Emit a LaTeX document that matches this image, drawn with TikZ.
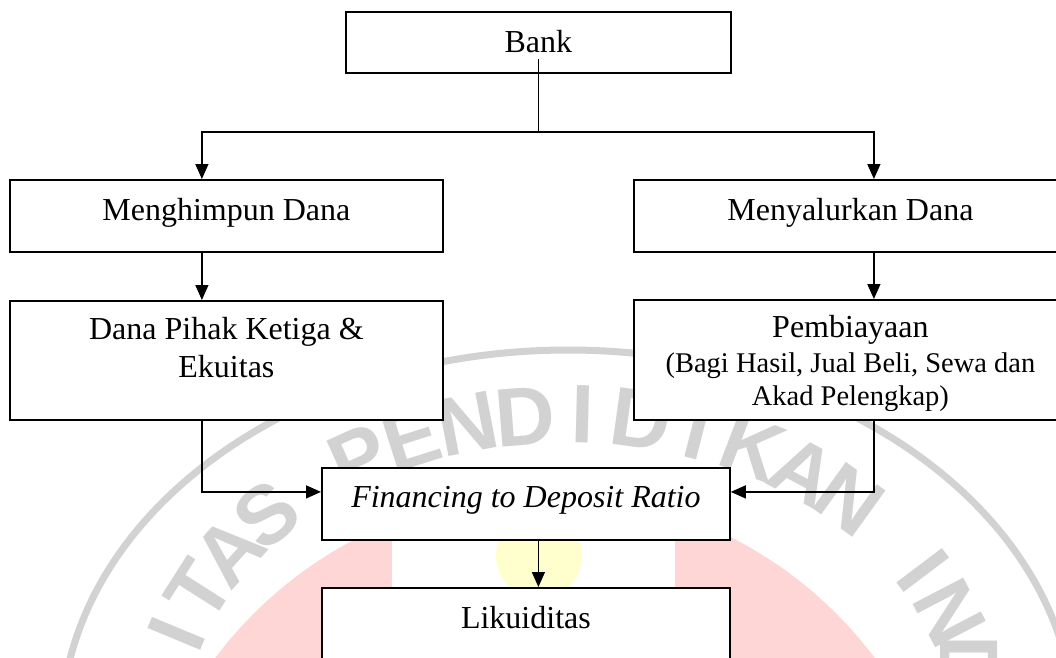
\documentclass[tikz,border=0pt]{standalone}
\usepackage{fontspec}
\setmainfont{Liberation Serif}
\newfontfamily\wmfont{Liberation Sans}
\usetikzlibrary{arrows.meta}
\definecolor{wmgray}{RGB}{210,210,210}
\definecolor{wmpink}{RGB}{255,214,214}
\definecolor{wmyellow}{RGB}{255,255,206}
\tikzset{
  box/.style={draw=black, line width=1.8pt, fill=white, inner sep=0pt, anchor=north west},
  txt/.style={anchor=base, inner sep=0pt, font=\fontsize{32}{38}\selectfont},
  stxt/.style={anchor=base, inner sep=0pt, font=\fontsize{28.5}{34}\selectfont},
  conn/.style={line width=1.4pt},
  arr/.style={conn, -{Triangle[length=15pt,width=13pt]}},
  wmletter/.style={inner sep=0pt, text=wmgray, font=\wmfont\bfseries\fontsize{83}{83}\selectfont},
}
\begin{document}
\begin{tikzpicture}[x=1pt,y=-1pt]
\useasboundingbox (0,0) rectangle (1056,657);
\clip (0,0) rectangle (1056,657);
\fill[white] (0,0) rectangle (1056,657);
% watermark
\fill[wmpink] (545,905) circle (412);
\fill[white] (392,400) rectangle (675,657);
\fill[wmyellow] (539,556) circle (43);
\draw[wmgray, line width=7pt] (568,731) ellipse [x radius=507, y radius=381];
\foreach \ch [count=\i from 0] in {U,N,I,V,E,R,S,I,T,A,S,{ },P,E,N,D,I,D,I,K,A,N,{ },I,N,D,O,N,E,S,I,A}{
  \pgfmathsetmacro\t{92-8.3*(\i-15.5)}
  \pgfmathsetmacro\px{568+383*cos(\t)}
  \pgfmathsetmacro\py{731-288*sin(\t)}
  \pgfmathsetmacro\rot{atan2(sin(\t)/288, cos(\t)/383)-90}
  \node[wmletter, anchor=base, rotate=\rot] (wm\i) at (\px,\py) {\ch};
}
% boxes
\node[box, minimum width=385pt, minimum height=61pt] (bank) at (345,11) {};
\node[box, minimum width=433pt, minimum height=72pt] (mh) at (9,179) {};
\node[box, minimum width=433pt, minimum height=72pt] (ms) at (633,179) {};
\node[box, minimum width=433pt, minimum height=119pt] (dpk) at (9,300) {};
\node[box, minimum width=433pt, minimum height=120pt] (pb) at (633,299) {};
\node[box, minimum width=408pt, minimum height=72pt] (fdr) at (321,467) {};
\node[box, minimum width=408pt, minimum height=110pt] (lk) at (321,587) {};
% texts
\node[txt] (bankt) at ([yshift=-41pt]bank.north) {Bank};
\node[txt] (mht) at ([yshift=-41pt]mh.north) {Menghimpun Dana};
\node[txt] (mst) at ([yshift=-41pt]ms.north) {Menyalurkan Dana};
\node[txt] (dpkt1) at ([yshift=-39pt]dpk.north) {Dana Pihak Ketiga \&};
\node[txt] (dpkt2) at ([yshift=-77pt]dpk.north) {Ekuitas};
\begin{scope}
  \clip (pb.north west) rectangle ([yshift=10pt]pb.south east);
  \node[txt] (pbt1) at ([yshift=-38pt]pb.north) {Pembiayaan};
  \node[stxt] (pbt2) at ([yshift=-73pt]pb.north) {(Bagi Hasil, Jual Beli, Sewa dan};
  \node[stxt] (pbt3) at ([yshift=-106pt]pb.north) {Akad Pelengkap)};
\end{scope}
\node[txt, font=\fontsize{32}{38}\selectfont\itshape] (fdrt) at ([yshift=-40pt]fdr.north) {Financing to Deposit Ratio};
\node[txt] (lkt) at ([yshift=-41pt]lk.north) {Likuiditas};
% connectors
\coordinate (bs) at ([yshift=-48pt]bank.north);
\coordinate (bj) at ([yshift=-121pt]bank.north);
\draw[conn] (bs) -- (bj);
\draw[arr] (bj) -| ([xshift=-24.5pt]mh.north);
\draw[arr] (bj) -| ([xshift=23.5pt]ms.north);
\draw[arr] ([xshift=-24.5pt]mh.south) -- ([xshift=-24.5pt]dpk.north);
\draw[arr] ([xshift=23.5pt]ms.south) -- ([xshift=23.5pt]pb.north);
\draw[arr] ([xshift=-24.5pt]dpk.south) |- ([yshift=12pt]fdr.west);
\draw[arr] ([xshift=23.5pt]pb.south) |- ([yshift=12pt]fdr.east);
\draw[arr] ([xshift=12.5pt]fdr.south) -- ([xshift=12.5pt]lk.north);
\end{tikzpicture}
\end{document}
